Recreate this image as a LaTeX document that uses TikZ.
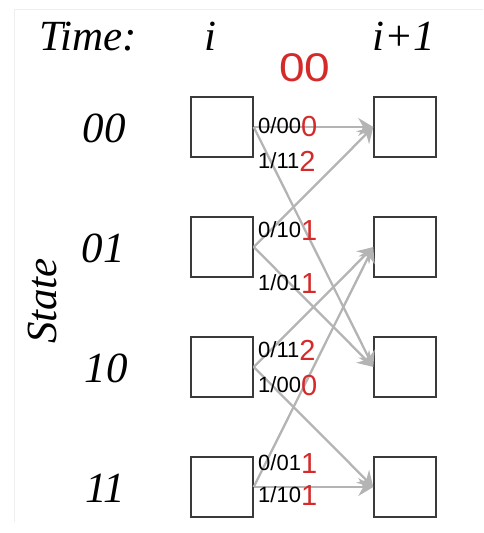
\documentclass[tikz,border=0pt]{standalone}
\usepackage{fontspec}
\setmainfont{Liberation Serif}
\newfontfamily\labsans{Liberation Sans}
\usetikzlibrary{arrows.meta}
\definecolor{bitred}{HTML}{D42A2A}
\definecolor{edgegray}{HTML}{B4B4B4}
\definecolor{boxline}{HTML}{3A3A3A}
\definecolor{frame}{HTML}{EEEEEE}
\newcommand{\rbit}[1]{{\color{bitred}\fontsize{29}{29}\selectfont\raisebox{-3.5pt}{#1}}}
\tikzset{
  statebox/.style={draw=boxline, line width=1.4pt, minimum width=62pt, minimum height=60pt, inner sep=0pt},
  trans/.style={draw=edgegray, line width=2.3pt, -{Stealth[length=15pt,width=18pt,inset=5pt]}},
  head/.style={font=\fontsize{43}{43}\selectfont\itshape, inner sep=0pt},
  edgelab/.style={font=\labsans\fontsize{22}{22}\selectfont, inner sep=0pt, anchor=base west},
}
\begin{document}
\begin{tikzpicture}[x=1pt,y=-1pt]
\useasboundingbox (0,0) rectangle (483,533);
% faint page edge
\draw[frame, line width=1pt] (483,9) -- (14,9) -- (14,522);

% headings
\node[head, anchor=base west] (time) at (39,50) {Time:};
\node[head, anchor=base] (ti) at (210,50) {i};
\node[head, anchor=base west] (tnext) at (372,50) {i+1};
\node[inner sep=0pt, text=bitred, font=\labsans\fontsize{40}{40}\selectfont] (cost) at (305,68) {\scalebox{1.15}[1]{00}};
\node[head, rotate=90, anchor=base] (state) at (56,301) {State};

% state names
\node[head, anchor=base] (s0) at (104,142) {00};
\node[head, anchor=base] (s1) at (103,262) {01};
\node[head, anchor=base] (s2) at (106,382) {10};
\node[head, anchor=base] (s3) at (105,502) {11};

% trellis states at time i and i+1
\foreach \k in {0,1,2,3}{
  \node[statebox] (L\k) at (222,127+120*\k) {};
  \node[statebox] (R\k) at (405,127+120*\k) {};
}

% branches
\draw[trans] (L0.east) -- (R0.west);
\draw[trans] (L0.east) -- (R2.west);
\draw[trans] (L1.east) -- (R0.west);
\draw[trans] (L1.east) -- (R2.west);
\draw[trans] (L2.east) -- (R1.west);
\draw[trans] (L2.east) -- (R3.west);
\draw[trans] (L3.east) -- (R1.west);
\draw[trans] (L3.east) -- (R3.west);

% branch labels: input/output and branch metric
\node[edgelab] (b00) at (258,133) {0/00\rbit{0}};
\node[edgelab] (b01) at (258,168) {1/11\rbit{2}};
\node[edgelab] (b10) at (258,237) {0/10\rbit{1}};
\node[edgelab] (b11) at (258,290) {1/01\rbit{1}};
\node[edgelab] (b20) at (258,357) {0/11\rbit{2}};
\node[edgelab] (b21) at (258,392) {1/00\rbit{0}};
\node[edgelab] (b30) at (258,470) {0/01\rbit{1}};
\node[edgelab] (b31) at (258,502) {1/10\rbit{1}};
\end{tikzpicture}
\end{document}
